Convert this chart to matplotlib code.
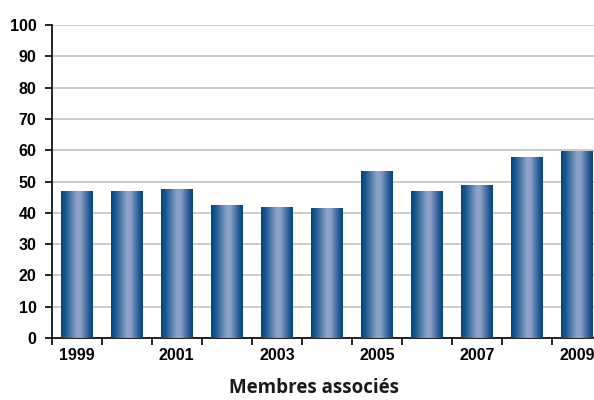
import numpy as np
import matplotlib.pyplot as plt
from matplotlib.colors import LinearSegmentedColormap

years = [1999, 2000, 2001, 2002, 2003, 2004, 2005, 2006, 2007, 2008, 2009]
values = [46.8, 46.8, 47.4, 42.3, 41.7, 41.4, 53.2, 46.8, 48.7, 57.6, 59.6]
year_labels = ['1999', '', '2001', '', '2003', '', '2005', '', '2007', '', '2009']
title = 'Membres associés'

plt.rcParams['font.family'] = ['Liberation Sans Narrow', 'Liberation Sans', 'DejaVu Sans']

fig = plt.figure(figsize=(5.94, 4.0), dpi=100)
ax = fig.add_axes([51.7/594, 62/400, (594-51.7)/594, 313/400])

cmap = LinearSegmentedColormap.from_list('bar', [
    (0.0, '#00457f'), (0.15, '#1d5a92'), (0.5, '#8ea3c8'),
    (0.62, '#8a9fc5'), (0.85, '#2f619a'), (1.0, '#00457f')])
grad = np.linspace(0, 1, 128).reshape(1, -1)

w = 0.62
x = np.arange(len(years))
for xi, v in zip(x, values):
    ax.imshow(grad, cmap=cmap, aspect='auto', extent=[xi - w/2, xi + w/2, 0, v],
              zorder=3, interpolation='bilinear')

ax.set_xlim(-0.5, 10.34)
ax.set_ylim(0, 100)
ax.set_yticks(np.arange(0, 101, 10))
ax.yaxis.grid(True, color='#bdbdbd', lw=1.1, zorder=0)
ax.set_axisbelow(True)

ax.set_xticks(np.arange(-0.5, 10.5, 1))
ax.set_xticklabels([])
ax.set_xticks(x, minor=True)
ax.set_xticklabels(year_labels, minor=True)
ax.tick_params(axis='x', which='major', direction='out', length=5, width=1.2, color='black')
ax.tick_params(axis='x', which='minor', length=0, pad=7, labelsize=11.5)
ax.tick_params(axis='y', direction='out', length=5, width=1.2, labelsize=11.5, pad=6)

for s in ['top', 'right']:
    ax.spines[s].set_visible(False)
for s in ['left', 'bottom']:
    ax.spines[s].set_linewidth(1.2)
    ax.spines[s].set_color('black')

for lab in ax.get_xticklabels(minor=True) + ax.get_yticklabels():
    lab.set_fontweight('bold')

fig.text(314/594, 1 - 388/400, title, ha='center', va='center', fontsize=13.5,
         fontweight='bold', color='#1a1a1a', family=['Open Sans', 'DejaVu Sans'])

fig.savefig('out.png', dpi=100, facecolor='white')
